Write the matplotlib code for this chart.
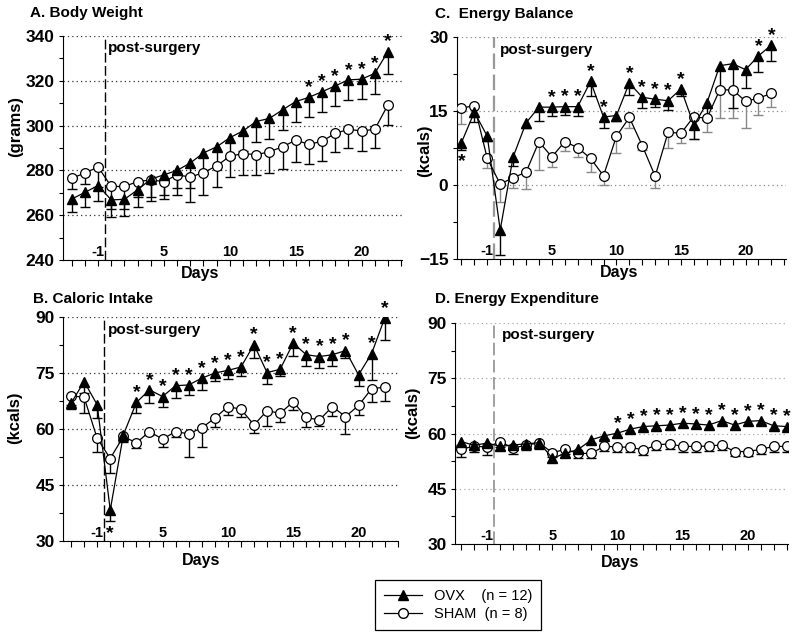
import matplotlib.pyplot as plt
import matplotlib.transforms as mtransforms
from matplotlib.lines import Line2D
from matplotlib.ticker import MultipleLocator

plt.rcParams['font.family'] = ['Liberation Sans', 'DejaVu Sans']
plt.rcParams['font.weight'] = 'bold'
plt.rcParams['axes.labelweight'] = 'bold'

# x axis: three pre-surgery days, then post-surgery days
days = [-3, -2, -1] + list(range(1, 24))
labelled_days = [-1, 5, 10, 15, 20]

# A. Body Weight (grams)
weight_ovx = [267.2, 270.2, 273.2, 266.8, 267.1, 271.3, 276.1, 278.0, 280.0, 283.3,
              287.8, 290.5, 294.6, 297.6, 301.8, 303.2, 307.0, 310.7, 312.6, 315.1,
              317.7, 320.4, 320.7, 323.3, 333.0]
weight_ovx_err = [6, 6.4, 7, 7.8, 7.4, 7.8, 10, 11, 11, 11, 9, 9, 9, 9, 9, 9, 9, 9,
                  9, 9, 9, 9, 9, 9, 10]
weight_sham = [276.5, 278.8, 281.5, 272.8, 272.8, 275.0, 275.7, 275.0, 278.0, 277.0,
               279.0, 282.0, 286.3, 287.5, 287.0, 288.3, 290.5, 293.5, 291.6, 293.0,
               296.5, 298.3, 297.6, 298.3, 309.2]
weight_sham_err = [5, 5, 9, 10, 10, 7, 7.5, 6, 6, 11, 10, 9.5, 9.3, 9.5, 9, 9.3, 10,
                   9.7, 8.6, 8.7, 8.2, 8.3, 9, 8.3, 9]
weight_stars_up = [18, 19, 20, 21, 22, 23, 24]
weight_stars_down = []

# B. Caloric Intake (kcals)
intake_ovx = [66.9, 72.7, 66.5, 38.3, 58.4, 67.1, 70.5, 68.7, 71.6, 71.8,
              73.6, 75.0, 75.7, 76.6, 82.6, 75.1, 76.0, 83.0, 79.9, 79.4,
              79.9, 81.0, 74.5, 80.2, 89.7]
intake_ovx_err = [1.6, 3, 3.5, 3, 1.5, 2.7, 3.6, 2.7, 3.2, 2.6, 3.1, 2.1, 2.4, 2.5, 3.6,
                  3, 1.7, 3.4, 2.9, 3, 2.9, 2, 3.1, 7, 5.8]
intake_sham = [68.9, 68.5, 57.5, 52.1, 58.0, 56.3, 59.3, 57.3, 59.3, 58.7,
               60.3, 62.9, 66.0, 65.3, 61.1, 64.9, 64.2, 67.3, 63.1, 62.4,
               66.0, 63.3, 66.3, 70.8, 71.2]
intake_sham_err = [2.5, 4.3, 3.6, 3.8, 1.5, 1.5, 1, 2, 1.5, 6.2, 5, 2.3, 2.2, 2,
                   2.3, 4, 2.2, 2.2, 2.5, 1.5, 2.5, 4.7, 2.6, 3.6, 3.6]
intake_stars_up = list(range(5, 22)) + [23, 24]
intake_stars_down = [3]

# C. Energy Balance (kcals)
balance_ovx = [8.6, 14.8, 9.9, -9.1, 5.7, 12.6, 15.8, 15.8, 15.9, 15.9,
               21.0, 13.8, 14.1, 20.7, 17.8, 17.4, 17.1, 19.5, 12.1, 16.6,
               24.2, 24.6, 23.4, 26.2, 28.4]
balance_ovx_err = [1.4, 2.1, 1.0, 5.0, 1.8, 1.1, 2.8, 1.7, 1.6, 1.8, 2.9, 2.2, 1.1,
                   2.4, 2.2, 1.6, 1.8, 1.5, 2.8, 3.5, 4.5, 9.0, 3.7, 3.2, 3.3]
balance_sham = [15.6, 16.1, 5.4, 0.2, 1.5, 2.6, 8.8, 5.7, 8.8, 7.6,
                5.4, 1.9, 9.9, 13.7, 8.0, 1.8, 10.7, 10.5, 13.9, 13.5,
                19.3, 19.3, 17.0, 17.6, 18.6]
balance_sham_err = [3.2, 2.2, 2.0, 3.6, 2, 3.3, 5.8, 2.0, 1.8, 1.9, 2.7, 1.9, 3.3,
                    2.2, 0.9, 2.3, 3.1, 1.9, 4.6, 2.7, 5.7, 5.7, 5.4, 3.3, 2.8]
balance_stars_up = [7, 8, 9, 10, 11, 13, 14, 15, 16, 17, 23, 24]
balance_stars_down = [0]

# D. Energy Expenditure (kcals)
expend_ovx = [57.8, 56.8, 57.4, 56.5, 56.9, 57.2, 57.5, 53.3, 54.6, 55.7,
              58.3, 59.4, 60.1, 61.2, 61.9, 62.1, 62.3, 62.8, 62.6, 62.3,
              63.5, 62.3, 63.3, 63.5, 62.1, 61.9]
expend_ovx_err = [1.0] * 26
expend_sham = [55.7, 56.6, 56.3, 57.8, 56.0, 56.9, 57.4, 54.8, 55.7, 54.6,
               54.6, 56.6, 56.3, 56.3, 55.5, 56.9, 57.2, 56.5, 56.5, 56.6,
               56.9, 55.1, 55.1, 55.7, 56.5, 56.5]
expend_sham_err = [2.0, 1.5, 2.1, 1.5, 1.5, 1.5, 1.5, 1.2, 1.3, 1.2, 1.2, 1.3, 1.3,
                   1.3, 1.3, 1.5, 1.5, 1.5, 1.5, 1.3, 1.3, 1.3, 1.3, 1.3, 1.5, 1.5]
expend_stars_up = list(range(12, 26))
expend_stars_down = []


def draw_panel(ax, ovx, ovx_err, sham, sham_err, stars_up, stars_down,
               ylim, ystep, ylabel, xlim, xlab_pos, ylab_pos, note_pos,
               grid_color, dash_color, dash_lw, sham_bar_color):
    x_ovx = list(range(len(ovx)))
    x_sham = list(range(len(sham)))
    lo_ovx = [v - e for v, e in zip(ovx, ovx_err)]
    lo_sham = [v - e for v, e in zip(sham, sham_err)]

    # one-sided (downward) error bars
    ax.vlines(x_sham, lo_sham, sham, color=sham_bar_color, lw=1, zorder=2)
    ax.plot(x_sham, lo_sham, ls='none', marker='_', ms=7, mew=1,
            color=sham_bar_color, zorder=2)
    ax.vlines(x_ovx, lo_ovx, ovx, color='black', lw=1, zorder=2)
    ax.plot(x_ovx, lo_ovx, ls='none', marker='_', ms=7, mew=1,
            color='black', zorder=2)

    ax.plot(x_sham, sham, color='black', lw=0.9, marker='o', ms=7,
            mfc='white', mec='black', mew=0.9, zorder=3)
    ax.plot(x_ovx, ovx, color='black', lw=0.9, marker='^', ms=7.5,
            mfc='black', mec='black', zorder=4)

    for i in stars_up:
        ax.annotate('*', (x_ovx[i], ovx[i]), xytext=(0, 7),
                    textcoords='offset points', ha='center', va='center',
                    fontsize=14, zorder=5)
    for i in stars_down:
        ax.annotate('*', (x_ovx[i], lo_ovx[i]), xytext=(0, -9),
                    textcoords='offset points', ha='center', va='center',
                    fontsize=14, zorder=5)

    ax.axvline(2.5, color=dash_color, lw=dash_lw, ls=(0, (7, 2.5)), zorder=1)
    blend = mtransforms.blended_transform_factory(ax.transData, ax.transAxes)
    ax.text(note_pos[0], note_pos[1], 'post-surgery', transform=blend,
            ha='left', va='center', fontsize=11)

    ax.set_ylim(*ylim)
    ax.set_xlim(*xlim)
    ax.yaxis.set_major_locator(MultipleLocator(ystep))
    ax.yaxis.set_minor_locator(MultipleLocator(ystep / 2))
    ax.yaxis.grid(True, which='major', ls=(0, (1, 2.5)), color=grid_color, lw=0.9)
    ax.set_axisbelow(True)

    ax.set_xticks(range(len(days)))
    ax.set_xticklabels([str(d) if d in labelled_days else '' for d in days])
    ax.tick_params(axis='x', direction='out', length=4, width=0.8,
                   labelsize=10.5, pad=-14.5)
    ax.tick_params(axis='y', which='major', direction='out', length=3,
                   width=0.8, labelsize=12.5, pad=3)
    ax.tick_params(axis='y', which='minor', direction='out', length=3, width=0.8)

    for side in ('top', 'right'):
        ax.spines[side].set_visible(False)
    for side in ('left', 'bottom'):
        ax.spines[side].set_linewidth(0.8)

    ax.set_xlabel('Days', fontsize=11.5)
    ax.xaxis.set_label_coords(*xlab_pos)
    ax.set_ylabel(ylabel, fontsize=12)
    ax.yaxis.set_label_coords(*ylab_pos)


fig = plt.figure(figsize=(8, 6.35), dpi=100)

ax_a = fig.add_axes([0.079, 0.5906, 0.424, 0.3528])
ax_b = fig.add_axes([0.079, 0.148, 0.419, 0.3528])
ax_c = fig.add_axes([0.571, 0.592, 0.411, 0.3496])
ax_d = fig.add_axes([0.569, 0.1433, 0.416, 0.348])

draw_panel(ax_a, weight_ovx, weight_ovx_err, weight_sham, weight_sham_err,
           weight_stars_up, weight_stars_down, (240, 340), 20, '(grams)',
           (-0.65, 25.1), (0.404, -0.027), (-0.118, 0.594), (2.75, 0.946),
           '#333333', 'black', 1.0, 'black')
draw_panel(ax_b, intake_ovx, intake_ovx_err, intake_sham, intake_sham_err,
           intake_stars_up, intake_stars_down, (30, 90), 15, '(kcals)',
           (-0.6, 25.05), (0.41, -0.054), (-0.124, 0.55), (2.8, 0.942),
           '#333333', 'black', 1.0, 'black')
draw_panel(ax_c, balance_ovx, balance_ovx_err, balance_sham, balance_sham_err,
           balance_stars_up, balance_stars_down, (-15, 30), 15, '(kcals)',
           (-0.36, 25.1), (0.495, -0.027), (-0.076, 0.486), (2.96, 0.94),
           '#888888', '#999999', 1.6, '#888888')
draw_panel(ax_d, expend_ovx, expend_ovx_err, expend_sham, expend_sham_err,
           expend_stars_up, expend_stars_down, (30, 90), 15, '(kcals)',
           (-0.46, 25.1), (0.495, -0.05), (-0.105, 0.593), (3.15, 0.946),
           '#aaaaaa', '#999999', 1.3, 'black')

fig.text(30 / 800, 1 - 6 / 635, 'A. Body Weight', ha='left', va='top', fontsize=11)
fig.text(33 / 800, 1 - 292 / 635, 'B. Caloric Intake', ha='left', va='top', fontsize=11)
fig.text(435 / 800, 1 - 7 / 635, 'C.  Energy Balance', ha='left', va='top', fontsize=11)
fig.text(435 / 800, 1 - 292 / 635, 'D. Energy Expenditure', ha='left', va='top', fontsize=11)

handles = [
    Line2D([], [], color='black', lw=0.9, marker='^', ms=7.5, mfc='black', mec='black'),
    Line2D([], [], color='black', lw=0.9, marker='o', ms=7, mfc='white', mec='black'),
]
leg = fig.legend(handles, ['OVX    (n = 12)', 'SHAM  (n = 8)'],
                 loc='center', bbox_to_anchor=(458 / 800, 1 - 605 / 635),
                 frameon=True, fancybox=False, edgecolor='black', framealpha=1,
                 handlelength=2.6, borderpad=0.6, labelspacing=0.25,
                 prop={'weight': 'normal', 'size': 10.5})
leg.get_frame().set_linewidth(0.9)

fig.savefig('out.png', dpi=100)
